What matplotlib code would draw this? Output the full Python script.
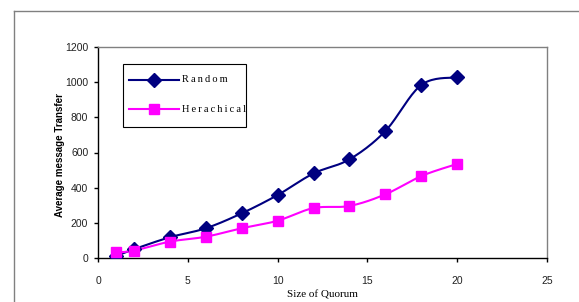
import numpy as np
import matplotlib
matplotlib.use("Agg")
import matplotlib.pyplot as plt
from matplotlib.patches import Rectangle

quorum = [1, 2, 4, 6, 8, 10, 12, 14, 16, 18, 20]
random_vals = [12, 50, 118, 169, 254, 358, 481, 561, 722, 984, 1028]
hier_vals = [32, 42, 93, 121, 169, 212, 284, 296, 362, 466, 535]
xticks = [0, 5, 10, 15, 20, 25]
yticks = [0, 200, 400, 600, 800, 1000, 1200]

W, H = 579, 302
fig = plt.figure(figsize=(W / 100, H / 100), dpi=100)
fig.patch.set_facecolor("white")

# outer chart border (left and top visible)
fig.add_artist(plt.Line2D([14 / W, 14 / W], [0, 1 - 11 / H], transform=fig.transFigure, color="#808080", lw=1))
fig.add_artist(plt.Line2D([14 / W, 1], [1 - 11 / H, 1 - 11 / H], transform=fig.transFigure, color="#808080", lw=1))

left, right, top, bottom = 98, 547, 47, 258
ax = fig.add_axes([left / W, 1 - bottom / H, (right - left) / W, (bottom - top) / H])


def smooth(xs, ys, n=20):
    # Bezier smoothing (Excel-like) through the data points, in pixel-ish space
    xs = np.asarray(xs, float)
    ys = np.asarray(ys, float)
    px = xs * 17.9
    py = ys * 0.1758
    P = np.column_stack([px, py])
    out = []
    for i in range(len(P) - 1):
        p0 = P[i - 1] if i > 0 else P[i]
        p1 = P[i]
        p2 = P[i + 1]
        p3 = P[i + 2] if i + 2 < len(P) else P[i + 1]
        c1 = p1 + (p2 - p0) / 6
        c2 = p2 - (p3 - p1) / 6
        t = np.linspace(0, 1, n)[:, None]
        seg = (1 - t) ** 3 * p1 + 3 * (1 - t) ** 2 * t * c1 + 3 * (1 - t) * t ** 2 * c2 + t ** 3 * p2
        out.append(seg if i == 0 else seg[1:])
    out = np.vstack(out)
    return out[:, 0] / 17.9, out[:, 1] / 0.1758


navy = "#000080"
mag = "#FF00FF"
sx, sy = smooth(quorum, random_vals)
ax.plot(sx, sy, color=navy, lw=1.5, zorder=2)
ax.plot(quorum, random_vals, ls="none", marker="D", ms=7, color=navy, zorder=3)
hx, hy = smooth(quorum, hier_vals)
ax.plot(hx, hy, color=mag, lw=1.5, zorder=2)
ax.plot(quorum, hier_vals, ls="none", marker="s", ms=7.5, color=mag, zorder=4)

ax.set_xlim(0, 25)
ax.set_ylim(0, 1200)
ax.set_xticks(xticks)
ax.set_yticks(yticks)
ax.tick_params(labelsize=7.5, length=3, width=1, color="black", labelcolor="#222222", pad=4)
for lab in ax.get_xticklabels() + ax.get_yticklabels():
    lab.set_family("Liberation Sans")
ax.tick_params(axis="x", pad=10)
ax.spines["top"].set_color("#808080")
ax.spines["right"].set_color("#808080")
ax.spines["left"].set_color("black")
ax.spines["bottom"].set_color("black")
for s in ax.spines.values():
    s.set_linewidth(1)

ax.set_xlabel("Size of Quorum", family="Liberation Serif", fontsize=8, labelpad=3)
fig.text(60 / W, 1 - 155 / H, "Average message Transfer", rotation=90, fontsize=7,
         fontweight="bold", family="Liberation Sans", ha="center", va="center")

# legend box drawn manually in figure pixels
fig.add_artist(Rectangle((123 / W, 1 - 127 / H), (246 - 123) / W, (127 - 64) / H,
                         transform=fig.transFigure, fill=True, facecolor="white",
                         edgecolor="black", lw=0.8, zorder=5))
for yy, col, mk, ms, label in [(80, navy, "D", 7, "Random"), (109, mag, "s", 7.5, "Herachical")]:
    fig.add_artist(plt.Line2D([129 / W, 179 / W], [1 - yy / H, 1 - yy / H], transform=fig.transFigure,
                              color=col, lw=1.5, zorder=6))
    fig.add_artist(plt.Line2D([154 / W], [1 - yy / H], transform=fig.transFigure, color=col,
                              marker=mk, ms=ms, ls="none", zorder=7))
    fig.text(182 / W, 1 - yy / H, "\u2009".join(label), family=["Liberation Serif", "DejaVu Serif"],
             fontsize=7.5, va="center", ha="left", zorder=7)

fig.savefig("out.png", dpi=100)
